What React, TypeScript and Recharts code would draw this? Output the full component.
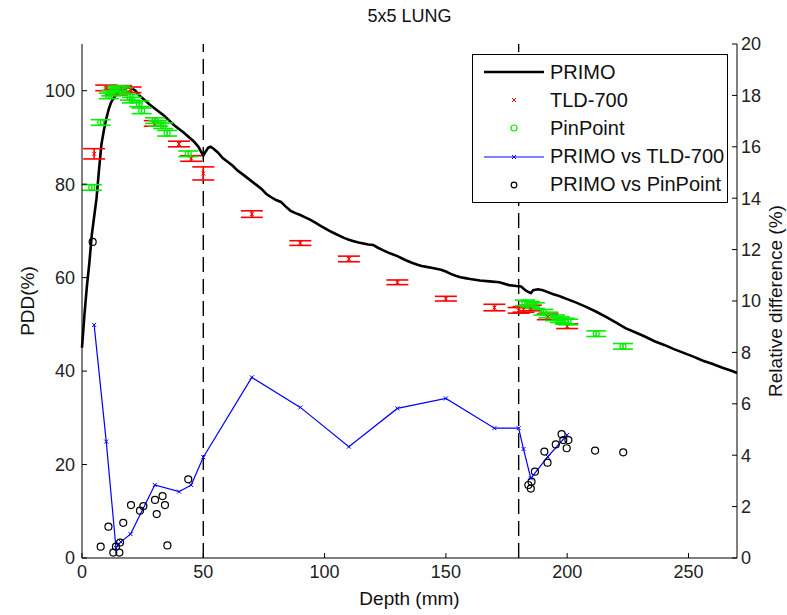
import {
  ComposedChart,
  Line,
  Scatter,
  ErrorBar,
  XAxis,
  YAxis,
  ReferenceLine,
} from "recharts";

// PRIMO Monte Carlo PDD curve
const primoDepth = [
  0, 1, 2, 3, 4, 5, 6, 7, 8, 9, 10, 11, 12, 14, 16, 18, 20, 22, 24, 26, 28, 30,
  32, 34, 36, 38, 40, 42, 44, 46, 48, 49, 50, 51, 52, 53, 54, 56, 58, 60, 62,
  64, 66, 68, 70, 72, 74, 76, 78, 80, 82, 84, 86, 88, 90, 92, 94, 96, 98, 100,
  102, 104, 106, 108, 110, 112, 114, 116, 118, 120, 122, 124, 126, 128, 130,
  132, 134, 136, 138, 140, 142, 144, 146, 148, 150, 152, 154, 156, 158, 160,
  164, 168, 172, 176, 179, 181, 183, 185, 186, 188, 190, 192, 194, 196, 198,
  200, 204, 208, 212, 216, 220, 224, 228, 232, 236, 240, 244, 248, 252, 256,
  260, 264, 268, 270,
];
const primoDose = [
  45, 52, 58, 63, 69, 73, 77, 83, 88.5, 91.5, 94, 96, 97.5, 99.2, 100.1, 100.6,
  100.7, 100, 98.8, 97.9, 97, 96.2, 95.4, 94.6, 93.6, 92.6, 91.8, 91, 90.1,
  89.2, 88, 87, 86.1, 87, 87.8, 88, 87.7, 86.8, 85.6, 84.8, 84, 83, 82.2, 81.4,
  80.6, 79.8, 79, 77.9, 77.2, 76.6, 76.2, 75.2, 74.3, 73.8, 73.4, 72.9, 72.4,
  71.8, 71.2, 70.6, 70, 69.5, 69, 68.5, 68.1, 67.8, 67.5, 67.3, 67.1, 67, 66.4,
  65.9, 65.4, 65, 64.6, 64.1, 63.6, 63.2, 62.8, 62.5, 62.3, 62.1, 61.9, 61.7,
  61.3, 60.8, 60.4, 60.1, 59.9, 59.7, 59.4, 59.2, 59, 58.4, 58.2, 58.1, 57.2,
  56.7, 57.3, 57.5, 57.3, 56.9, 56.5, 56.2, 55.8, 55.4, 54.6, 53.7, 52.7, 51.6,
  50.4, 49.2, 48.3, 47.4, 46.4, 45.6, 44.7, 43.9, 43.1, 42.2, 41.5, 40.7, 40,
  39.6,
];

// TLD-700 measurements
const tldDepth = [5, 10, 14, 16, 20, 30, 40, 45, 50, 70, 90, 110, 130, 150, 170, 180, 182, 185, 192, 200];
const tldDose = [86.5, 100.6, 99.7, 100.5, 100.2, 93.0, 88.6, 85.5, 82.3, 73.6, 67.4, 64.0, 59.0, 55.5, 53.6, 53.0, 53.2, 53.5, 51.6, 49.6];
const tldErr = [1.1, 0.6, 0.6, 0.6, 0.6, 0.6, 0.6, 0.6, 1.4, 0.7, 0.5, 0.6, 0.5, 0.5, 0.7, 0.6, 0.6, 0.6, 0.6, 0.5];

// PinPoint chamber measurements
const pinDepth = [4, 7.7, 11, 12, 13, 14.3, 15.7, 17, 19.8, 20.6, 23.6, 24.6, 30.1, 31.5, 33.5, 35.1, 43.8, 182.6, 184.7, 186.7, 190.2, 192.3, 195, 197, 199, 200.4, 212, 223];
const pinDose = [79.3, 93.2, 98.9, 99.5, 100, 100.4, 100.4, 100, 98.6, 98, 97.2, 95.7, 93.6, 93, 92.5, 90.9, 86.5, 54.6, 54.3, 54, 52.6, 52, 51.4, 51, 50.7, 50.5, 48, 45.3];
const pinErr = 0.6;

// relative differences (%)
const diffTldDepth = tldDepth;
const diffTld = [9.07, 4.53, 0.39, 0.63, 0.93, 2.84, 2.58, 2.84, 3.92, 7.03, 5.86, 4.33, 5.82, 6.21, 5.05, 5.05, 4.24, 3.1, 3.94, 4.79];

const diffPinDepth = [4.4, 7.7, 10.9, 12.9, 14, 15.4, 15.7, 17, 20.2, 23.9, 25.3, 30.1, 30.8, 33.2, 34.2, 35.2, 43.8, 184, 185, 185.3, 186.7, 190.6, 191.9, 195.3, 197.7, 198.4, 200.5, 199.8, 211.5, 223.1];
const diffPin = [12.3, 0.44, 1.22, 0.21, 0.44, 0.21, 0.6, 1.37, 2.06, 1.84, 2.02, 2.26, 1.71, 2.41, 2.06, 0.49, 3.06, 2.84, 2.7, 2.97, 3.36, 4.14, 3.71, 4.42, 4.82, 4.59, 4.59, 4.27, 4.18, 4.11];

const xTicks = [0, 50, 100, 150, 200, 250];
const leftTicks = [0, 20, 40, 60, 80, 100];
const rightTicks = [0, 2, 4, 6, 8, 10, 12, 14, 16, 18, 20];
const lungEdges = [50, 180];

const primoData = primoDepth.map((x, i) => ({ x, y: primoDose[i] }));
const tldData = tldDepth.map((x, i) => ({ x, y: tldDose[i], e: tldErr[i] }));
const pinData = pinDepth.map((x, i) => ({ x, y: pinDose[i], e: pinErr }));
const diffTldData = diffTldDepth.map((x, i) => ({ x, y: diffTld[i] }));
const diffPinData = diffPinDepth.map((x, i) => ({ x, y: diffPin[i] }));

const FONT = '"Liberation Sans", Arial, sans-serif';
const tickStyle = { fontSize: 18, fill: "#222", fontFamily: FONT };

const XMark = ({ cx, cy, color, s = 2.5 }: any) => (
  <path
    d={`M${cx - s},${cy - s}L${cx + s},${cy + s}M${cx - s},${cy + s}L${cx + s},${cy - s}`}
    stroke={color}
    strokeWidth={1}
  />
);

const Ring = ({ cx, cy, color, r = 3.5 }: any) => (
  <circle cx={cx} cy={cy} r={r} fill="none" stroke={color} strokeWidth={1.2} />
);

const legendRows = [
  { name: "PRIMO", kind: "thick" },
  { name: "TLD-700", kind: "x" },
  { name: "PinPoint", kind: "green" },
  { name: "PRIMO vs TLD-700", kind: "blue" },
  { name: "PRIMO vs PinPoint", kind: "black" },
];

function LegendBox() {
  return (
    <div
      style={{
        position: "absolute",
        left: 472,
        top: 54,
        width: 254,
        height: 147,
        border: "1px solid #000",
        background: "#fff",
        fontFamily: FONT,
        fontSize: 20,
        color: "#111",
      }}
    >
      {legendRows.map((r, i) => (
        <div
          key={r.name}
          style={{ position: "absolute", left: 0, top: 3 + i * 28.2, height: 28, display: "flex", alignItems: "center" }}
        >
          <svg width={76} height={28}>
            {r.kind === "thick" && <line x1={11} x2={71} y1={14} y2={14} stroke="#000" strokeWidth={2.5} />}
            {r.kind === "x" && <XMark cx={41} cy={14} color="#ff0000" s={2} />}
            {r.kind === "green" && <Ring cx={41} cy={14} color="#00ee00" r={3} />}
            {r.kind === "blue" && (
              <g>
                <line x1={11} x2={71} y1={14} y2={14} stroke="#0000ff" strokeWidth={1.2} />
                <XMark cx={41} cy={14} color="#0000ff" s={2} />
              </g>
            )}
            {r.kind === "black" && <Ring cx={41} cy={14} color="#000" r={2.8} />}
          </svg>
          <span style={{ marginLeft: 1 }}>{r.name}</span>
        </div>
      ))}
    </div>
  );
}

export default function App() {
  return (
    <div
      style={{
        position: "absolute",
        left: 0,
        top: 0,
        width: 787,
        height: 615,
        background: "#fff",
        fontFamily: FONT,
      }}
    >
      <div
        style={{
          position: "absolute",
          top: 6,
          left: 82,
          width: 655,
          textAlign: "center",
          fontSize: 18,
          color: "#111",
        }}
      >
        5x5 LUNG
      </div>
      <ComposedChart width={787} height={615} margin={{ top: 44, right: 0, bottom: 0, left: 0 }}>
        <XAxis
          xAxisId="b"
          dataKey="x"
          type="number"
          domain={[0, 270]}
          ticks={xTicks}
          height={57}
          tickSize={-5}
          tickMargin={12}
          tick={tickStyle}
          stroke="#000"
          label={{ value: "Depth (mm)", position: "center", dy: 12, style: { fontSize: 19, fill: "#111", fontFamily: FONT } }}
        />
        <XAxis
          xAxisId="t"
          orientation="top"
          type="number"
          domain={[0, 270]}
          ticks={xTicks}
          height={0}
          tickSize={-5}
          tickFormatter={() => ""}
          stroke="#000"
        />
        <YAxis
          yAxisId="l"
          dataKey="y"
          type="number"
          domain={[0, 110]}
          ticks={leftTicks}
          width={82}
          tickSize={-5}
          tickMargin={12}
          tick={tickStyle}
          stroke="#000"
          label={{ value: "PDD(%)", angle: -90, position: "center", dx: -14, style: { fontSize: 19, fill: "#111", fontFamily: FONT } }}
        />
        <YAxis
          yAxisId="r"
          orientation="right"
          dataKey="y"
          type="number"
          domain={[0, 20]}
          ticks={rightTicks}
          width={50}
          tickSize={-5}
          tickMargin={9}
          tick={tickStyle}
          stroke="#000"
          label={{ value: "Relative difference (%)", angle: -90, position: "center", dx: 13, style: { fontSize: 19, fill: "#111", fontFamily: FONT } }}
        />
        {lungEdges.map((d) => (
          <ReferenceLine key={d} x={d} xAxisId="b" yAxisId="l" stroke="#000" strokeWidth={1.4} strokeDasharray="15 7" />
        ))}
        <Line
          data={primoData}
          dataKey="y"
          xAxisId="b"
          yAxisId="l"
          stroke="#000"
          strokeWidth={2.6}
          dot={false}
          type="linear"
          isAnimationActive={false}
        />
        <Scatter
          data={tldData}
          dataKey="y"
          xAxisId="b"
          yAxisId="l"
          isAnimationActive={false}
          shape={(p: any) => <XMark cx={p.cx} cy={p.cy} color="#ff0000" s={2} />}
        >
          <ErrorBar dataKey="e" direction="y" width={11} stroke="#ff0000" strokeWidth={1.6} isAnimationActive={false} />
        </Scatter>
        <Scatter
          data={pinData}
          dataKey="y"
          xAxisId="b"
          yAxisId="l"
          isAnimationActive={false}
          shape={(p: any) => <Ring cx={p.cx} cy={p.cy} color="#00ee00" r={3} />}
        >
          <ErrorBar dataKey="e" direction="y" width={10} stroke="#00ee00" strokeWidth={1.6} isAnimationActive={false} />
        </Scatter>
        <Line
          data={diffTldData}
          dataKey="y"
          xAxisId="b"
          yAxisId="r"
          stroke="#0000ff"
          strokeWidth={1.2}
          type="linear"
          isAnimationActive={false}
          dot={(p: any) => <XMark key={p.index} cx={p.cx} cy={p.cy} color="#0000ff" s={2} />}
        />
        <Scatter
          data={diffPinData}
          dataKey="y"
          xAxisId="b"
          yAxisId="r"
          isAnimationActive={false}
          shape={(p: any) => <Ring cx={p.cx} cy={p.cy} color="#000" r={3.5} />}
        />
      </ComposedChart>
      <LegendBox />
    </div>
  );
}
